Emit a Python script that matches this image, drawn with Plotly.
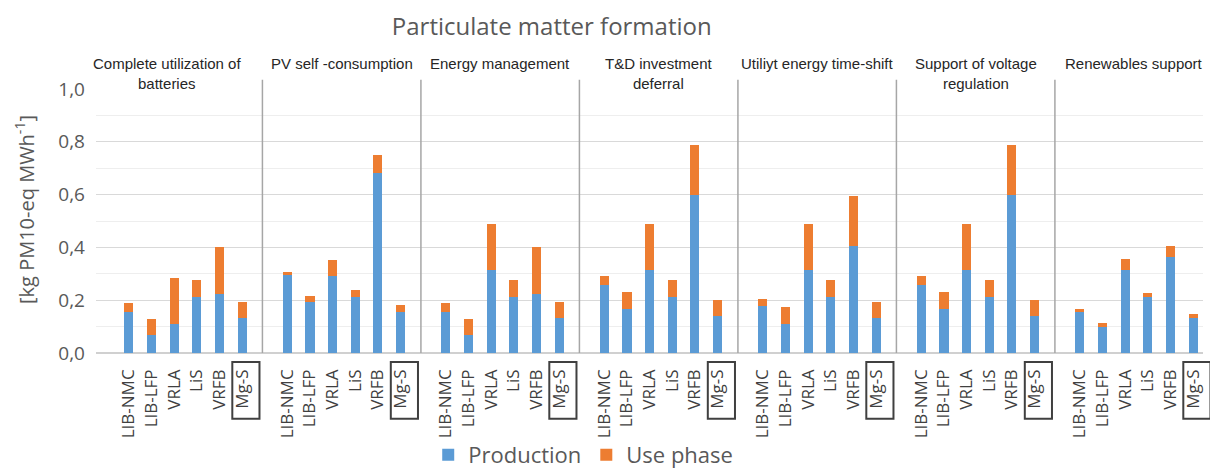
import plotly.graph_objects as go

# Applications (one group of bars each) and the battery technologies compared
applications = [
    "Complete utilization of<br>batteries",
    "PV self -consumption",
    "Energy management",
    "T&D investment<br>deferral",
    "Utiliyt energy time-shift",
    "Support of voltage<br>regulation",
    "Renewables support",
]
batteries = ["LIB-NMC", "LIB-LFP", "VRLA", "LiS", "VRFB", "Mg-S"]

# Particulate matter formation, kg PM10-eq per MWh – production share
prod_complete = [0.157, 0.067, 0.111, 0.212, 0.222, 0.132]
prod_pv = [0.295, 0.193, 0.290, 0.212, 0.683, 0.157]
prod_energy = [0.157, 0.067, 0.315, 0.212, 0.222, 0.132]
prod_td = [0.258, 0.168, 0.315, 0.212, 0.598, 0.140]
prod_shift = [0.178, 0.111, 0.315, 0.212, 0.406, 0.132]
prod_voltage = [0.258, 0.168, 0.315, 0.212, 0.598, 0.140]
prod_renew = [0.157, 0.098, 0.315, 0.212, 0.363, 0.132]

# Use-phase share
use_complete = [0.032, 0.063, 0.174, 0.063, 0.181, 0.062]
use_pv = [0.011, 0.022, 0.064, 0.025, 0.066, 0.023]
use_energy = [0.032, 0.063, 0.174, 0.063, 0.181, 0.062]
use_td = [0.032, 0.062, 0.174, 0.063, 0.189, 0.059]
use_shift = [0.027, 0.063, 0.174, 0.063, 0.187, 0.062]
use_voltage = [0.032, 0.062, 0.174, 0.063, 0.189, 0.059]
use_renew = [0.011, 0.017, 0.041, 0.016, 0.044, 0.015]

y_ticks = [0.0, 0.2, 0.4, 0.6, 0.8, 1.0]

production = [prod_complete, prod_pv, prod_energy, prod_td, prod_shift, prod_voltage, prod_renew]
use_phase = [use_complete, use_pv, use_energy, use_td, use_shift, use_voltage, use_renew]

# Layout of the category axis: each application takes 7 slots
SLOTS = 7
FIRST = 1.1
X_MIN, X_MAX = -0.35, 48.54

xs, labels, prod_vals, use_vals = [], [], [], []
for g in range(len(applications)):
    for i, b in enumerate(batteries):
        xs.append(g * SLOTS + FIRST + i)
        labels.append(b)
        prod_vals.append(production[g][i])
        use_vals.append(use_phase[g][i])

BLUE = "#5B9BD5"
ORANGE = "#ED7D31"
GREY_TXT = "#595959"

fig = go.Figure()
fig.add_trace(go.Bar(x=xs, y=prod_vals, name="Production", marker=dict(color=BLUE, line_width=0),
                     width=0.4))
fig.add_trace(go.Bar(x=xs, y=use_vals, name="Use phase", marker=dict(color=ORANGE, line_width=0),
                     width=0.4))


def px(x):
    return (x - X_MIN) / (X_MAX - X_MIN)


shapes = []
# group separators
for g in range(1, len(applications)):
    xp = px(g * SLOTS)
    shapes.append(dict(type="line", xref="paper", yref="paper", x0=xp, x1=xp, y0=0, y1=1.035,
                       line=dict(color="#a6a6a6", width=1.5)))
# frames around the Mg-S labels
for g in range(len(applications)):
    xc = g * SLOTS + FIRST + 5 + 0.17
    shapes.append(dict(type="rect", xref="paper", yref="paper", x0=px(xc - 0.6), x1=px(xc + 0.6),
                       y0=-0.249, y1=-0.034, line=dict(color="#404040", width=2),
                       fillcolor="rgba(0,0,0,0)"))

annotations = []
for g, name in enumerate(applications):
    shift = -16 if g == 0 else 0
    annotations.append(dict(text=name, xref="paper", yref="paper", x=px(g * SLOTS + 3.5), y=1.135,
                            xanchor="center", yanchor="top", showarrow=False, xshift=shift,
                            font=dict(family="Liberation Sans, Arial", size=15, color="#262626")))
annotations.append(dict(text="[kg PM10-eq MWh<sup>-1</sup>]", xref="paper", yref="paper",
                        x=-0.0641, y=0.542, textangle=-90, showarrow=False,
                        xanchor="center", yanchor="middle",
                        font=dict(family="Open Sans", size=20, color=GREY_TXT)))

fig.update_layout(
    width=1210, height=468,
    margin=dict(l=96, r=7, t=89.3, b=115.3, autoexpand=False),
    paper_bgcolor="white", plot_bgcolor="white",
    barmode="stack",
    separators=", ",
    title=dict(text="Particulate matter formation", x=0.456, xref="container", y=0.944,
               yanchor="middle", xanchor="center",
               font=dict(family="Open Sans", size=24, color=GREY_TXT)),
    xaxis=dict(range=[X_MIN, X_MAX], tickvals=xs, ticktext=labels, tickangle=-90,
               showgrid=False, zeroline=False, showline=False, ticks="", automargin=False,
               ticklabelstandoff=12,
               tickfont=dict(family="Open Sans", size=17, color="#404040")),
    yaxis=dict(range=[0, 1.0], tickvals=y_ticks, tickformat=".1f", showgrid=True,
               gridcolor="#d9d9d9", gridwidth=1.2, zeroline=True, zerolinecolor="#d0d0d0",
               zerolinewidth=1.5, showline=False, ticks="", ticklabelstandoff=10, automargin=False,
               minor=dict(dtick=0.1, showgrid=True, gridcolor="#eeeeee", gridwidth=1.2),
               tickfont=dict(family="Open Sans", size=19, color=GREY_TXT)),
    legend=dict(orientation="h", x=0.482, xref="container", y=0.028, yref="container",
                xanchor="center", yanchor="middle", bgcolor="rgba(0,0,0,0)",
                font=dict(family="Open Sans", size=22, color=GREY_TXT), traceorder="normal"),
    shapes=shapes,
    annotations=annotations,
    bargap=0,
)

fig.write_html("out.html")
